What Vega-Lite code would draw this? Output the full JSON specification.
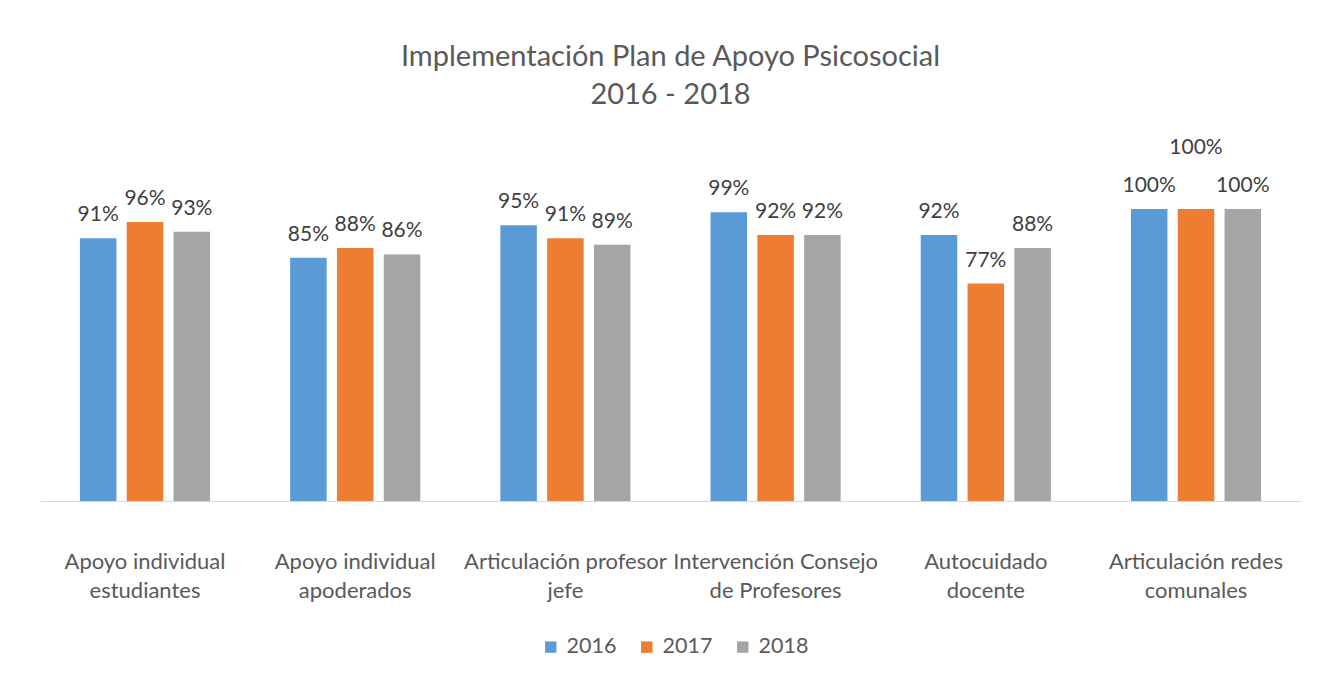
{
  "$schema": "https://vega.github.io/schema/vega-lite/v6.json",
  "width": 1261,
  "height": 292,
  "autosize": "none",
  "padding": {"left": 40, "top": 209, "right": 17, "bottom": 178},
  "background": "white",
  "title": {
    "text": ["Implementación Plan de Apoyo Psicosocial", "2016 - 2018"],
    "anchor": "middle",
    "frame": "group",
    "font": "Lato",
    "fontSize": 29,
    "fontWeight": "normal",
    "color": "#595959",
    "lineHeight": 38,
    "offset": 27
  },
  "data": {
    "values": [
      {"categoria": "Apoyo individual estudiantes", "anio": "2016", "valor": 0.91},
      {"categoria": "Apoyo individual estudiantes", "anio": "2017", "valor": 0.96},
      {"categoria": "Apoyo individual estudiantes", "anio": "2018", "valor": 0.93},
      {"categoria": "Apoyo individual apoderados", "anio": "2016", "valor": 0.85},
      {"categoria": "Apoyo individual apoderados", "anio": "2017", "valor": 0.88},
      {"categoria": "Apoyo individual apoderados", "anio": "2018", "valor": 0.86},
      {"categoria": "Articulación profesor jefe", "anio": "2016", "valor": 0.95},
      {"categoria": "Articulación profesor jefe", "anio": "2017", "valor": 0.91},
      {"categoria": "Articulación profesor jefe", "anio": "2018", "valor": 0.89},
      {"categoria": "Intervención Consejo de Profesores", "anio": "2016", "valor": 0.99},
      {"categoria": "Intervención Consejo de Profesores", "anio": "2017", "valor": 0.92},
      {"categoria": "Intervención Consejo de Profesores", "anio": "2018", "valor": 0.92},
      {"categoria": "Autocuidado docente", "anio": "2016", "valor": 0.92},
      {"categoria": "Autocuidado docente", "anio": "2017", "valor": 0.77},
      {"categoria": "Autocuidado docente", "anio": "2018", "valor": 0.88},
      {"categoria": "Articulación redes comunales", "anio": "2016", "valor": 1.0},
      {"categoria": "Articulación redes comunales", "anio": "2017", "valor": 1.0},
      {"categoria": "Articulación redes comunales", "anio": "2018", "valor": 1.0}
    ]
  },
  "encoding": {
    "x": {
      "field": "categoria",
      "type": "nominal",
      "sort": null,
      "scale": {"paddingInner": 0.381, "paddingOuter": 0.19},
      "axis": {
        "title": null,
        "labelAngle": 0,
        "ticks": false,
        "domain": true,
        "domainColor": "#D9D9D9",
        "domainWidth": 1,
        "labelFont": "Lato",
        "labelFontSize": 22,
        "labelColor": "#595959",
        "labelLineHeight": 29,
        "labelPadding": 50,
        "labelLimit": 400,
        "labelExpr": "datum.label == 'Intervención Consejo de Profesores' ? ['Intervención Consejo', 'de Profesores'] : [slice(datum.label, 0, lastindexof(datum.label, ' ')), slice(datum.label, lastindexof(datum.label, ' ') + 1)]"
      }
    },
    "xOffset": {
      "field": "anio",
      "type": "nominal",
      "scale": {"paddingInner": 0.22, "paddingOuter": 0}
    },
    "y": {
      "field": "valor",
      "type": "quantitative",
      "scale": {"domain": [0.1, 1], "zero": false, "nice": false},
      "axis": null
    }
  },
  "layer": [
    {
      "mark": {"type": "bar"},
      "encoding": {
        "y2": {"datum": 0.1},
        "color": {
          "field": "anio",
          "type": "nominal",
          "scale": {"domain": ["2016", "2017", "2018"], "range": ["#5B9BD5", "#ED7D31", "#A5A5A5"]},
          "legend": {
            "title": null,
            "orient": "none",
            "legendX": 500,
            "legendY": 427,
            "direction": "horizontal",
            "symbolType": "square",
            "symbolSize": 130,
            "symbolStrokeWidth": 0,
            "labelFont": "Lato",
            "labelFontSize": 21.5,
            "labelColor": "#595959",
            "labelOffset": 5,
            "columnPadding": 19
          }
        }
      }
    },
    {
      "transform": [{"filter": "!(datum.categoria == 'Articulación redes comunales' && datum.anio == '2017')"}],
      "mark": {"type": "text", "dy": -17, "baseline": "alphabetic", "font": "Lato", "fontSize": 21, "color": "#404040"},
      "encoding": {"text": {"field": "valor", "type": "quantitative", "format": ".0%"}}
    },
    {
      "transform": [{"filter": "datum.categoria == 'Articulación redes comunales' && datum.anio == '2017'"}],
      "mark": {"type": "text", "dy": -55, "baseline": "alphabetic", "font": "Lato", "fontSize": 21, "color": "#404040"},
      "encoding": {"text": {"field": "valor", "type": "quantitative", "format": ".0%"}}
    }
  ],
  "config": {
    "view": {"stroke": null}
  }
}
